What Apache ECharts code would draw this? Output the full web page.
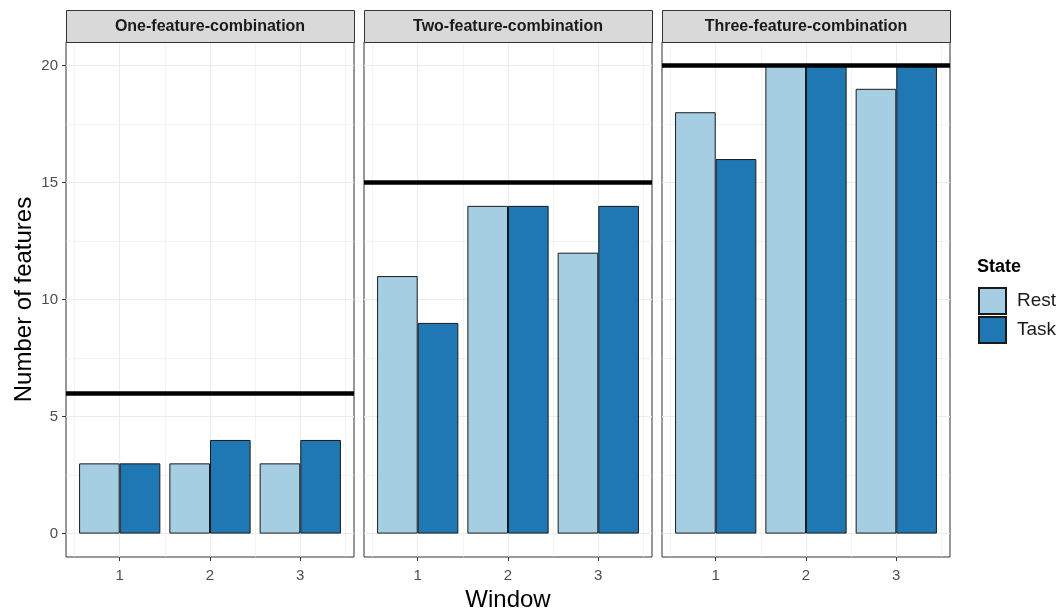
<!DOCTYPE html>
<html>
<head>
<meta charset="utf-8">
<script src="https://cdn.jsdelivr.net/npm/echarts@6/dist/echarts.min.js"></script>
<style>
  html, body { margin: 0; padding: 0; background: #ffffff; }
  #chart { width: 1062px; height: 609px; }
</style>
</head>
<body>
<div id="chart"></div>
<script>
// ---- data ----
const windows = [1, 2, 3];
const panelNames = ['One-feature-combination', 'Two-feature-combination', 'Three-feature-combination'];
const restValues = [[3, 3, 3], [11, 14, 12], [18, 20, 19]];
const taskValues = [[3, 4, 4], [9, 14, 14], [16, 20, 20]];
const thresholds = [6, 15, 20];
const yTicks = [0, 5, 10, 15, 20];
const yMinorTicks = [2.5, 7.5, 12.5, 17.5];
const xMinorTicks = [0.5, 1.5, 2.5, 3.5];
const stateNames = ['Rest', 'Task'];

// ---- layout / style ----
const FONT = '"Liberation Sans", Arial, Helvetica, sans-serif';
const COLORS = { Rest: '#a6cee3', Task: '#1f78b4' };
const PANEL_LEFT = [66, 364, 662];
const PANEL_W = 288;
const PANEL_TOP = 42;
const PANEL_H = 515;
const STRIP_TOP = 10;
const STRIP_H = 32;
const X_MIN = 0.405, X_MAX = 3.595;
const Y_MIN = -1, Y_MAX = 21;

const chart = echarts.init(document.getElementById('chart'), null, { renderer: 'canvas' });

const grids = [], xAxes = [], yAxes = [], series = [], graphics = [];

panelNames.forEach((name, g) => {
  grids.push({
    left: PANEL_LEFT[g], top: PANEL_TOP, width: PANEL_W, height: PANEL_H,
    containLabel: false, outerBoundsMode: 'none',
    show: true, backgroundColor: '#ffffff', borderColor: '#333333', borderWidth: 1
  });
  // main x axis
  xAxes.push({
    type: 'value', gridIndex: g, min: X_MIN, max: X_MAX, position: 'bottom',
    axisLine: { show: false, onZero: false },
    axisTick: { show: true, length: 4, customValues: windows, lineStyle: { color: '#333333', width: 1 } },
    axisLabel: { show: true, customValues: windows, margin: 11, color: '#4d4d4d', fontSize: 15, fontFamily: FONT },
    splitLine: { show: true, lineStyle: { color: '#ebebeb', width: 1 } },
    name: g === 1 ? 'Window' : '',
    nameLocation: 'middle', nameGap: 30,
    nameTextStyle: { color: '#000000', fontSize: 24, fontFamily: FONT }
  });
  // minor x gridlines
  xAxes.push({
    type: 'value', gridIndex: g, min: X_MIN, max: X_MAX, position: 'top',
    axisLine: { show: false, onZero: false },
    axisTick: { show: false, customValues: xMinorTicks },
    axisLabel: { show: false, customValues: xMinorTicks },
    splitLine: { show: true, lineStyle: { color: '#ebebeb', width: 0.6 } }
  });
  // main y axis
  yAxes.push({
    type: 'value', gridIndex: g, min: Y_MIN, max: Y_MAX, position: 'left',
    axisLine: { show: false, onZero: false },
    axisTick: { show: g === 0, length: 4, customValues: yTicks, lineStyle: { color: '#333333', width: 1 } },
    axisLabel: { show: g === 0, customValues: yTicks, margin: 8, color: '#4d4d4d', fontSize: 15, fontFamily: FONT },
    splitLine: { show: true, lineStyle: { color: '#ebebeb', width: 1 } },
    name: g === 0 ? 'Number of features' : '',
    nameLocation: 'middle', nameGap: 30,
    nameTextStyle: { color: '#000000', fontSize: 24, fontFamily: FONT }
  });
  // minor y gridlines
  yAxes.push({
    type: 'value', gridIndex: g, min: Y_MIN, max: Y_MAX, position: 'right',
    axisLine: { show: false, onZero: false },
    axisTick: { show: false, customValues: yMinorTicks },
    axisLabel: { show: false, customValues: yMinorTicks },
    splitLine: { show: true, lineStyle: { color: '#ebebeb', width: 0.6 } }
  });

  const perState = { Rest: restValues[g], Task: taskValues[g] };
  stateNames.forEach((state, s) => {
    const ser = {
      type: 'bar', name: state,
      xAxisIndex: 2 * g, yAxisIndex: 2 * g,
      data: windows.map((w, i) => [w, perState[state][i]]),
      barGap: '0%', barCategoryGap: '10%',
      itemStyle: { color: COLORS[state], borderColor: '#1a1a1a', borderWidth: 1 },
      emphasis: { disabled: true },
      z: 2
    };
    if (s === 1) {
      ser.markLine = {
        silent: true, symbol: ['none', 'none'], z: 5,
        label: { show: false },
        lineStyle: { color: '#000000', width: 4.5, type: 'solid' },
        emphasis: { disabled: true },
        data: [{ yAxis: thresholds[g] }]
      };
    }
    series.push(ser);
  });

  // facet strip
  graphics.push({
    type: 'rect', z: 10,
    shape: { x: PANEL_LEFT[g] + 0.5, y: STRIP_TOP + 0.5, width: PANEL_W, height: STRIP_H },
    style: { fill: '#d9d9d9', stroke: '#333333', lineWidth: 1 }
  });
  graphics.push({
    type: 'text', z: 11,
    x: PANEL_LEFT[g] + PANEL_W / 2, y: STRIP_TOP + STRIP_H / 2 + 1,
    style: {
      text: name, fill: '#1a1a1a', font: 'bold 16px ' + FONT,
      align: 'center', verticalAlign: 'middle'
    }
  });
});

chart.setOption({
  animation: false,
  backgroundColor: '#ffffff',
  title: {
    text: 'State', left: 977, top: 258, padding: 0,
    textStyle: { fontSize: 18, fontWeight: 'bold', color: '#000000', fontFamily: FONT }
  },
  legend: {
    data: stateNames, orient: 'vertical', left: 978, top: 287, padding: 0,
    itemWidth: 27, itemHeight: 26, itemGap: 1, icon: 'rect',
    selectedMode: false,
    textStyle: { fontSize: 19, color: '#1a1a1a', fontFamily: FONT, padding: [0, 0, 0, 6] }
  },
  grid: grids,
  xAxis: xAxes,
  yAxis: yAxes,
  series: series,
  graphic: graphics
});
</script>
</body>
</html>
